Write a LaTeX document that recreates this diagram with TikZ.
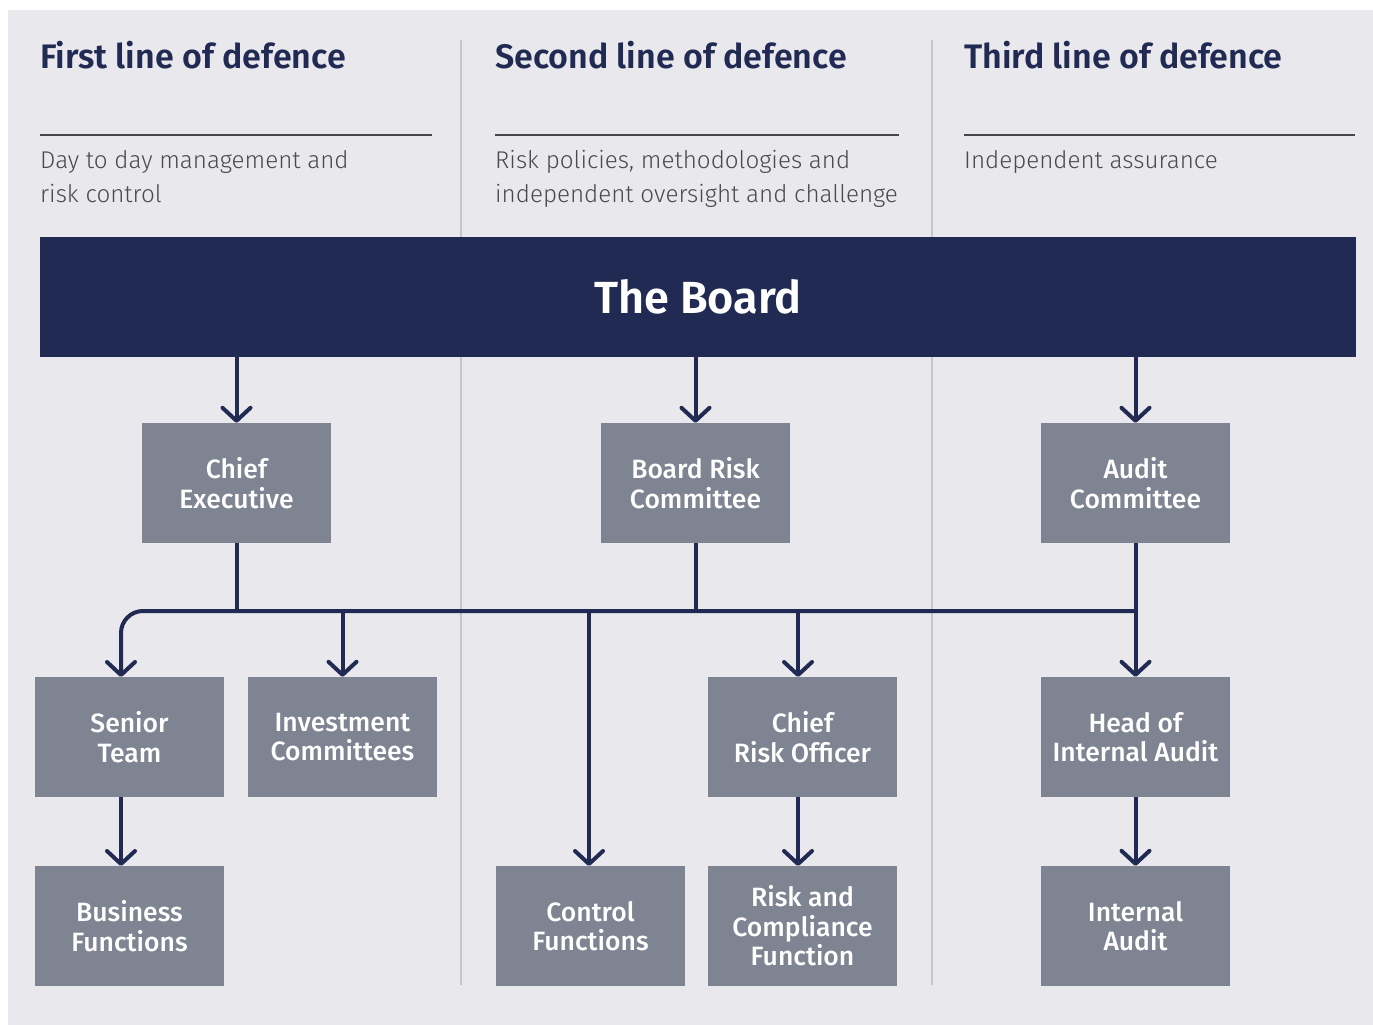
\documentclass[tikz,border=0pt]{standalone}
\usepackage{fontspec}
\setmainfont{Fira Sans}
\newfontfamily\lightfont{Fira Sans Light}
\newfontfamily\semifont{Fira Sans SemiBold}
\newfontfamily\medfont{Fira Sans Medium}
\usetikzlibrary{arrows.meta}

\definecolor{bgc}{HTML}{E9E8ED}
\definecolor{navy}{HTML}{212A52}
\definecolor{boxc}{HTML}{7F8492}
\definecolor{divc}{HTML}{C5C5CB}
\definecolor{rulec}{HTML}{474747}
\definecolor{subc}{HTML}{4A4A4A}

\tikzset{
  x=1pt, y=-1pt,
  roleb/.style={fill=boxc, minimum width=189pt, minimum height=120pt, inner sep=0pt,
    text=white, align=center, font=\medfont\fontsize{26.5}{29.5}\selectfont},
  heading/.style={anchor=base west, inner sep=0pt, text=navy, font=\semifont\fontsize{34}{40}\selectfont},
  subtext/.style={anchor=north west, inner sep=0pt, text=subc, align=left,
    font=\lightfont\fontsize{24.2}{34}\selectfont},
  divider/.style={draw=divc, line width=1.2pt},
  rulel/.style={draw=rulec, line width=2pt},
  link/.style={draw=navy, line width=4pt},
  arrow/.style={link, -{Straight Barb[length=13pt, width=28pt, line cap=round, line join=round]}},
}

\begin{document}
\begin{tikzpicture}
  % canvas
  \useasboundingbox (0,0) rectangle (1373,1025);
  \fill[bgc] (8,10) rectangle (1373,1025);

  % column dividers
  \draw[divider] (461,40) -- (461,985);
  \draw[divider] (932,40) -- (932,985);

  % column headings
  \node[heading] (h1) at (40,68) {First line of defence};
  \node[heading] (h2) at (495,68) {Second line of defence};
  \node[heading] (h3) at (964,68) {Third line of defence};

  \draw[rulel] (40,135) -- (432,135);
  \draw[rulel] (495,135) -- (899,135);
  \draw[rulel] (964,135) -- (1355,135);

  \node[subtext] (s1) at (40,150) {Day to day management and\\risk control};
  \node[subtext] (s2) at (495,150) {Risk policies, methodologies and\\independent oversight and challenge};
  \node[subtext] (s3) at (964,150) {Independent assurance};

  % the board
  \node[fill=navy, minimum width=1316pt, minimum height=120pt, inner sep=0pt,
        text=white, font=\semifont\fontsize{45}{50}\selectfont] (board) at (698,297) {The Board};

  % committees
  \node[roleb] (ce)  at (236.5,483) {Chief\\Executive};
  \node[roleb] (brc) at (695.5,483) {Board Risk\\Committee};
  \node[roleb] (ac)  at (1135.5,483) {Audit\\Committee};

  % second tier
  \node[roleb] (st)  at (129.5,737) {Senior\\Team};
  \node[roleb] (ic)  at (342.5,737) {Investment\\Committees};
  \node[roleb] (cro) at (802.5,737) {Chief\\Risk Officer};
  \node[roleb] (hia) at (1135.5,737) {Head of\\Internal Audit};

  % bottom tier
  \node[roleb] (bf)  at (129.5,926) {Business\\Functions};
  \node[roleb] (cf)  at (590.5,926) {Control\\Functions};
  \node[roleb] (rcf) at (802.5,926) {Risk and\\Compliance\\Function};
  \node[roleb] (ia)  at (1135.5,926) {Internal\\Audit};

  % connector anchors
  \coordinate (busR) at (1135.5,611);
  \coordinate (stIn) at (121,677);
  \coordinate (stOut) at (121,797);
  \coordinate (bfIn) at (121,866);
  \coordinate (cfIn) at (589,866);
  \coordinate (croIn) at (798,677);
  \coordinate (croOut) at (798,797);
  \coordinate (rcfIn) at (798,866);

  % board to committees
  \draw[arrow] (board.south -| ce.north) -- (ce.north);
  \draw[arrow] (board.south -| brc.north) -- (brc.north);
  \draw[arrow] (board.south -| ac.north) -- (ac.north);

  % shared bus
  \draw[link] (ce.south) -- (ce.south |- busR);
  \draw[link] (brc.south) -- (brc.south |- busR);
  \draw[arrow, rounded corners=22pt] (busR) -| (stIn);
  \draw[arrow] (ac.south) -- (hia.north);
  \draw[arrow] (ic.north |- busR) -- (ic.north);
  \draw[arrow] (cfIn |- busR) -- (cfIn);
  \draw[arrow] (croIn |- busR) -- (croIn);

  % lower links
  \draw[arrow] (stOut) -- (bfIn);
  \draw[arrow] (croOut) -- (rcfIn);
  \draw[arrow] (hia.south) -- (ia.north);
\end{tikzpicture}
\end{document}
